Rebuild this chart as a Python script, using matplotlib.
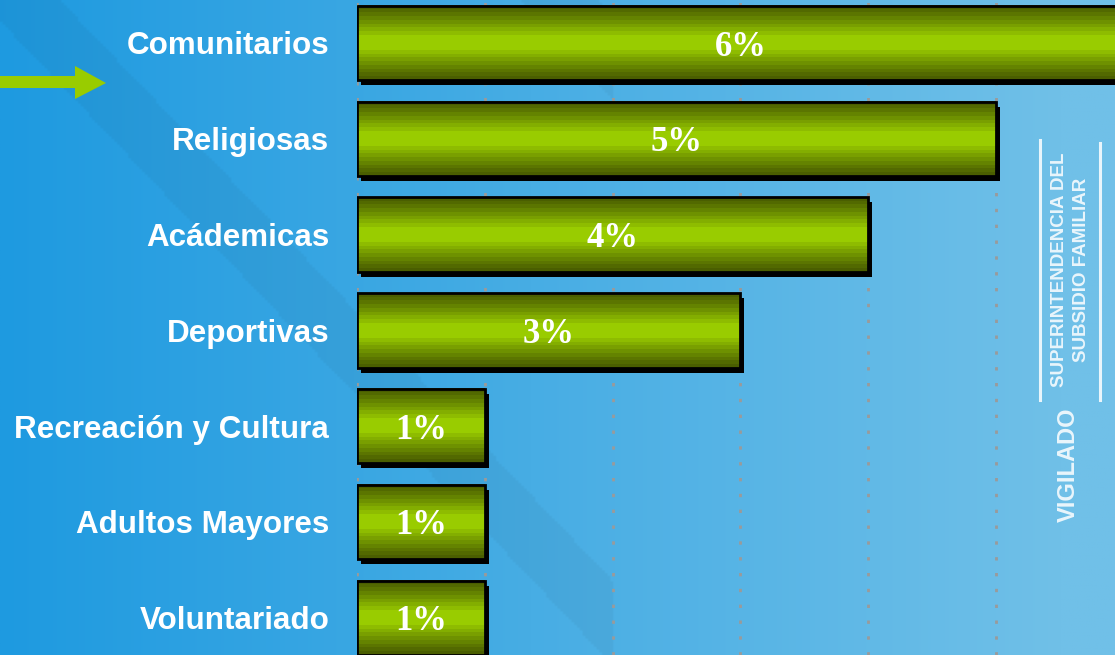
import numpy as np
import matplotlib
matplotlib.use("Agg")
import matplotlib.pyplot as plt
from matplotlib.patches import Rectangle, Polygon
from matplotlib.colors import ListedColormap
import matplotlib.transforms as mtransforms

categories = ["Comunitarios", "Religiosas", "Acádemicas", "Deportivas",
              "Recreación y Cultura", "Adultos Mayores", "Voluntariado"]
values = [6, 5, 4, 3, 1, 1, 1]
labels = ["6%", "5%", "4%", "3%", "1%", "1%", "1%"]
grid_ticks = [0, 1, 2, 3, 4, 5]

W, H = 1115, 655
fig = plt.figure(figsize=(W / 100, H / 100), dpi=100)

# background
bg = fig.add_axes([0, 0, 1, 1], zorder=0)
bg.set_axis_off()
xx, yy = np.meshgrid(np.linspace(0, 1, 400), np.linspace(0, 1, 240))
c0 = np.array([30, 154, 224]) / 255
c1 = np.array([112, 192, 232]) / 255
t = np.clip(xx * 1.05, 0, 1)[..., None]
img = c0 * (1 - t) + c1 * t
# subtle diagonal bands
d = (xx * W - yy * H * 0.95)
band = (np.abs(d - 20) < 40) | (np.abs(d - 560) < 40)
band &= (xx < 0.55)
img[band] = img[band] * 0.96
img = np.clip(img, 0, 1)
bg.imshow(img, extent=[0, 1, 0, 1], aspect="auto", origin="upper")
bg.set_xlim(0, 1)
bg.set_ylim(0, 1)

# green arrow
bg.add_patch(Polygon([[0, 1 - 76 / H], [75 / W, 1 - 76 / H], [75 / W, 1 - 66 / H],
                      [106 / W, 1 - 83 / H], [75 / W, 1 - 99 / H], [75 / W, 1 - 88 / H],
                      [0, 1 - 88 / H]], closed=True, color="#99cc00", lw=0))

# watermark
wm = dict(rotation=90, color="white", alpha=0.85, fontweight="bold",
          family="Liberation Sans", ha="center", va="center")
bg.text(1068 / W, 1 - 465 / H, "VIGILADO", fontsize=17, **wm)
bg.text(1060 / W, 1 - 270 / H, "SUPERINTENDENCIA DEL", fontsize=13.5, **wm)
bg.text(1081 / W, 1 - 270 / H, "SUBSIDIO FAMILIAR", fontsize=13.5, **wm)
bg.plot([1040 / W, 1040 / W], [1 - 140 / H, 1 - 400 / H], color="white", lw=2.2, alpha=0.85)
bg.plot([1100 / W, 1100 / W], [1 - 143 / H, 1 - 400 / H], color="white", lw=2.2, alpha=0.85)

# main axes
left = 357 / W
ax = fig.add_axes([left, 0, 1 - left, 1], zorder=1)
ax.patch.set_alpha(0)
px_per_unit = 127.8
xmax = (W - 357) / px_per_unit
spacing = 95.8
ytop = -43 / spacing
ybot = (H - 43) / spacing

# gradient colormap (striped)
dark = np.array([74, 94, 0]) / 255
bright = np.array([153, 204, 0]) / 255
n = 9
steps = [dark + (bright - dark) * (i / (n - 1)) ** 1.1 for i in range(n)]
cmap = ListedColormap(steps)
grad = np.concatenate([np.arange(n), [n - 1, n - 1], np.arange(n)[::-1]])[:, None].astype(float)

h = 0.775
shadow_tr = ax.transData + mtransforms.ScaledTranslation(4 / 100, -5 / 100, fig.dpi_scale_trans)
for i, (v, lab) in enumerate(zip(values, labels)):
    ax.add_patch(Rectangle((0, i - h / 2), v, h, facecolor="black", edgecolor="none",
                           transform=shadow_tr, zorder=2))
    ax.imshow(grad, extent=[0, v, i + h / 2, i - h / 2], aspect="auto", cmap=cmap,
              interpolation="nearest", zorder=3, vmin=0, vmax=n - 1)
    ax.add_patch(Rectangle((0, i - h / 2), v, h, facecolor="none", edgecolor="black",
                           lw=2, zorder=4))
    ax.text(v / 2, i, lab, color="white", fontsize=25, fontweight="bold",
            family="Liberation Serif", ha="center", va="center_baseline", zorder=5)

for g in grid_ticks:
    ax.axvline(g, color="#9a9a9a", lw=2, linestyle=(0, (1.2, 4.5)), zorder=1)

ax.set_xlim(0, xmax)
ax.set_ylim(ybot, ytop)
ax.set_yticks(range(len(categories)))
ax.set_yticklabels(categories, color="white", fontsize=22.6, fontweight="bold",
                   family="Liberation Sans")
ax.tick_params(axis="y", length=0, pad=20)
ax.set_xticks([])
for s in ax.spines.values():
    s.set_visible(False)

fig.savefig("out.png", dpi=100)
